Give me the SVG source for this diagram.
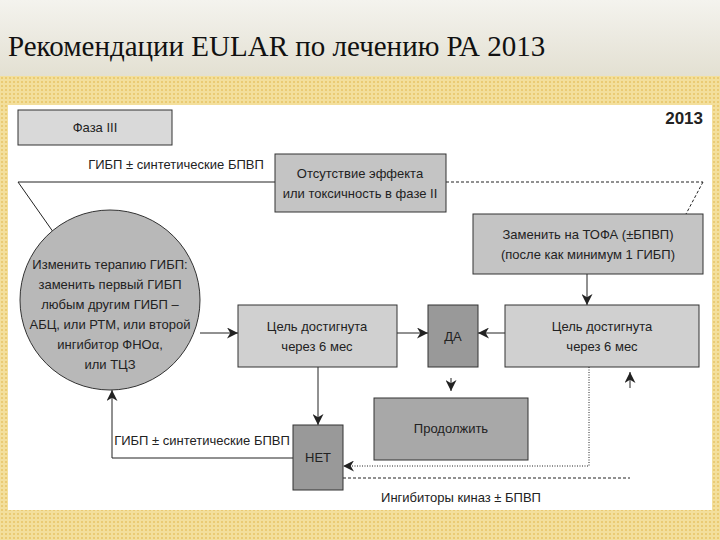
<svg xmlns="http://www.w3.org/2000/svg" width="720" height="540" viewBox="0 0 720 540">
<defs>
<linearGradient id="tg" x1="0" y1="0" x2="0" y2="1"><stop offset="0" stop-color="#f4f3ee"/><stop offset="1" stop-color="#e3e0d2"/></linearGradient>
<pattern id="dots" width="4" height="4" patternUnits="userSpaceOnUse"><rect width="4" height="4" fill="#f3df9c"/><circle cx="2" cy="2" r="1" fill="#e8c566"/></pattern>
<marker id="ah" viewBox="0 0 10 10" refX="10" refY="5" markerWidth="11" markerHeight="11" orient="auto" markerUnits="userSpaceOnUse"><path d="M0,0 L10,5 L0,10 L3,5 Z" fill="#222"/></marker>
</defs>
<style>
.b{stroke:#333;stroke-width:1}
.t{font-family:"Liberation Sans Narrow","Liberation Sans",Arial,sans-serif;font-size:13px;fill:#222;text-anchor:middle}
.l{stroke:#222;stroke-width:1;fill:none}
.d{stroke:#222;stroke-width:1;fill:none;stroke-dasharray:3,2}
.o{stroke:#222;stroke-width:1;fill:none;stroke-dasharray:1,1.5}
</style>
<rect width="720" height="540" fill="url(#dots)"/>
<rect width="720" height="76" fill="url(#tg)"/>
<rect x="8" y="105" width="704" height="405" fill="#fff"/>
<text x="8" y="56" font-family="Liberation Serif,serif" font-size="29" fill="#111">Рекомендации EULAR по лечению РА 2013</text>
<text x="703" y="124" font-family="Liberation Sans,Arial,sans-serif" font-size="17" font-weight="bold" fill="#222" text-anchor="end">2013</text>
<g id="connectors">
<line class="l" x1="18" y1="182" x2="275" y2="182"/>
<line class="d" x1="446" y1="182" x2="703" y2="182"/>
<line class="l" x1="18" y1="182" x2="56" y2="236"/>
<line class="d" x1="703" y1="182" x2="686" y2="214"/>
<line class="l" x1="587" y1="274" x2="587" y2="305" marker-end="url(#ah)"/>
<line class="l" x1="200" y1="333" x2="238" y2="333" marker-end="url(#ah)"/>
<line class="l" x1="397" y1="333" x2="428" y2="333" marker-end="url(#ah)"/>
<line class="l" x1="505" y1="333" x2="478" y2="333" marker-end="url(#ah)"/>
<line class="l" x1="451" y1="378" x2="451" y2="391" marker-end="url(#ah)"/>
<line class="l" x1="318" y1="367" x2="318" y2="425" marker-end="url(#ah)"/>
<polyline class="l" points="293,458 112,458 112,390" marker-end="url(#ah)"/>
<polyline class="o" points="589,367 589,466 343,466" marker-end="url(#ah)"/>
<line class="d" x1="343" y1="478" x2="630" y2="478"/>
<line class="l" x1="630" y1="388" x2="630" y2="372" marker-end="url(#ah)"/>
<text class="t" x="176" y="169">ГИБП ± синтетические БПВП</text>
<text class="t" x="202" y="445">ГИБП ± синтетические БПВП</text>
<text class="t" x="461" y="502">Ингибиторы киназ ± БПВП</text>
</g>
<g id="phase"><rect class="b" x="18" y="110" width="154" height="35" fill="#d9d9d9"/><text class="t" x="95" y="132">Фаза III</text></g>
<g id="noeffect"><rect class="b" x="275" y="154" width="171" height="58" fill="#c4c4c4"/><text class="t" x="360" y="178">Отсутствие эффекта</text><text class="t" x="360" y="198">или токсичность в фазе II</text></g>
<g id="circle"><circle class="b" cx="110" cy="300" r="90" fill="#b8b8b8"/>
<text class="t" x="110" y="269">Изменить терапию ГИБП:</text><text class="t" x="110" y="289">заменить первый ГИБП</text><text class="t" x="110" y="309">любым другим ГИБП –</text><text class="t" x="110" y="329">АБЦ, или РТМ, или второй</text><text class="t" x="110" y="349">ингибитор ФНОα,</text><text class="t" x="110" y="369">или ТЦЗ</text></g>
<g id="tofa"><rect class="b" x="473" y="214" width="230" height="60" fill="#c4c4c4"/><text class="t" x="588" y="239">Заменить на ТОФА (±БПВП)</text><text class="t" x="588" y="259">(после как минимум 1 ГИБП)</text></g>
<g id="goal1"><rect class="b" x="238" y="305" width="159" height="62" fill="#d0d0d0"/><text class="t" x="317" y="331">Цель достигнута</text><text class="t" x="317" y="351">через 6 мес</text></g>
<g id="yes"><rect class="b" x="428" y="305" width="50" height="62" fill="#999"/><text class="t" x="453" y="341">ДА</text></g>
<g id="goal2"><rect class="b" x="505" y="305" width="194" height="62" fill="#d0d0d0"/><text class="t" x="602" y="331">Цель достигнута</text><text class="t" x="602" y="351">через 6 мес</text></g>
<g id="continue"><rect class="b" x="374" y="398" width="154" height="62" fill="#a8a8a8"/><text class="t" x="451" y="433">Продолжить</text></g>
<g id="no"><rect class="b" x="293" y="425" width="50" height="65" fill="#999"/><text class="t" x="318" y="462">НЕТ</text></g>
</svg>
